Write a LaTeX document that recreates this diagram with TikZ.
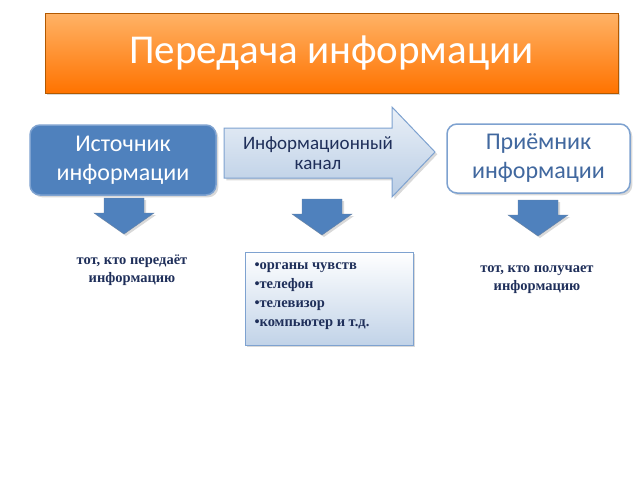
\documentclass[tikz,border=0pt]{standalone}
\usepackage{fontspec}
\setmainfont{Liberation Serif}
\newfontfamily\carfont{Carlito}
\usetikzlibrary{shadows}
\definecolor{navy}{HTML}{1F2F5A}
\definecolor{bl}{HTML}{4F81BD}
\definecolor{blb}{HTML}{7EA2D0}
\tikzset{
 dn/.style={draw=blb!80!black,fill=bl,drop shadow={opacity=0.3,shadow xshift=2pt,shadow yshift=-2pt}},
 lbl/.style={font=\bfseries\fontsize{14.5}{18}\selectfont,text=navy,align=center},
}
\newcommand\dnarrow[3]{\draw[dn] (#1-20,#2) -- (#1+20,#2) -- (#1+20,#2+15) -- (#1+30,#2+15) -- (#1,#2+36) -- (#1-30,#2+15) -- (#1-20,#2+15) -- cycle;
 \coordinate (#3) at (#1,#2);}
\begin{document}
\begin{tikzpicture}[x=1pt,y=-1pt]
\useasboundingbox (0,0) rectangle (640,480);
\node[draw=orange!70!black,top color=orange!60,bottom color=orange!90!red,minimum width=573pt,minimum height=80pt,inner sep=0pt,drop shadow={opacity=0.3},font=\carfont\fontsize{41}{44}\selectfont,text=white] (title) at (331.5,53) {Передача информации};
\node[draw=blb,line width=1.5pt,fill=bl,rounded corners=10pt,minimum width=186pt,minimum height=70pt,align=center,font=\carfont\fontsize{24}{29}\selectfont,text=white,drop shadow={opacity=0.3}] (src) at (123,160) {Источник\\информации};
\draw[draw=blb,line width=1pt,top color=white!60!bl!30,bottom color=bl!40,drop shadow={opacity=0.3}] (224,128) -- (392,128) -- (392,107) -- (435,152) -- (392,197) -- (392,178) -- (224,178) -- cycle;
\node[font=\carfont\fontsize{19}{20}\selectfont,text=navy,align=center] (cht) at (318,153) {Информационный\\канал};
\node[draw=blb,line width=1.5pt,fill=white,rounded corners=10pt,minimum width=183pt,minimum height=69pt,align=center,font=\carfont\fontsize{24}{29}\selectfont,text=bl!70!navy,drop shadow={opacity=0.3}] (rcv) at (538.5,158.5) {Приёмник\\информации};
\dnarrow{124}{198}{d1}
\dnarrow{322}{199}{d2}
\dnarrow{538}{200}{d3}
\node[lbl] (t1) at (132,270) {тот, кто передаёт\\информацию};
\node[draw=blb,top color=white,bottom color=bl!35,minimum width=168pt,minimum height=93pt,drop shadow={opacity=0.3}] (lst) at (329,298.5) {};
\node[lbl,align=left,anchor=north west,font=\bfseries\fontsize{14.5}{19}\selectfont] (lt) at (251,259) {•органы чувств\\•телефон\\•телевизор\\•компьютер и т.д.};
\node[lbl] (t3) at (537,280) {тот, кто получает\\информацию};
\end{tikzpicture}
\end{document}
